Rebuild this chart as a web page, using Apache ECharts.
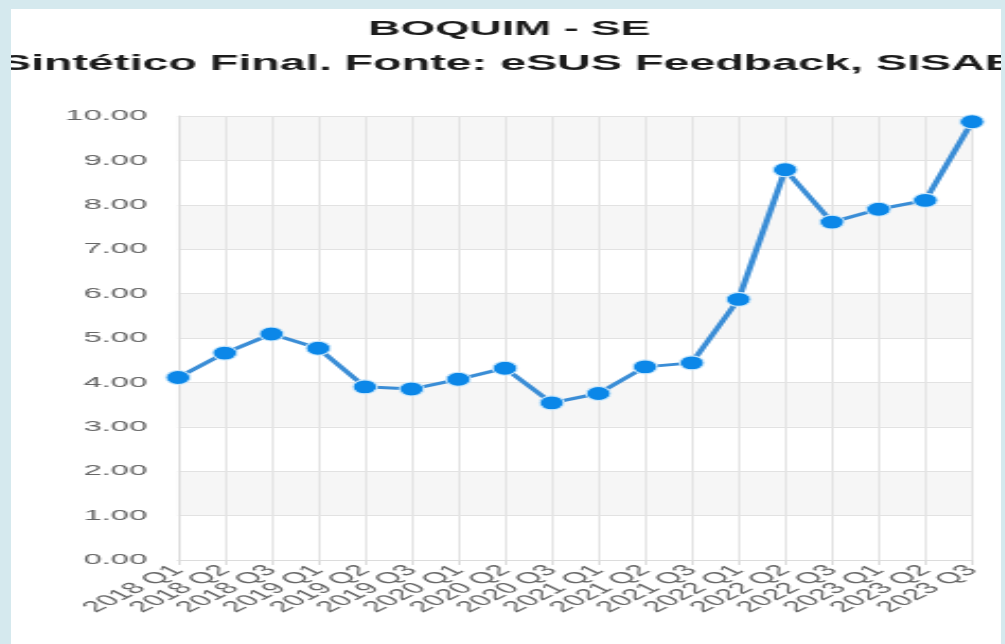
<!DOCTYPE html>
<html>
<head>
<meta charset="utf-8">
<script src="https://cdn.jsdelivr.net/npm/echarts@6/dist/echarts.min.js"></script>
<style>
  html, body { margin: 0; padding: 0; width: 1005px; height: 644px; overflow: hidden; background: #d5e9ee; }
  #panel { position: absolute; left: 11px; top: 9px; width: 990px; height: 635px; background: #ffffff; overflow: hidden; }
  #chart { position: absolute; left: 0; top: 0; width: 470px; height: 635px; transform: scaleX(2.12); transform-origin: 0 0; }
</style>
</head>
<body>
<div id="panel"><div id="chart"></div></div>
<script>
const titleText = 'BOQUIM - SE';
const subtitleText = 'Sintético Final. Fonte: eSUS Feedback, SISAB';
const categories = ['2018 Q1', '2018 Q2', '2018 Q3', '2019 Q1', '2019 Q2', '2019 Q3',
  '2020 Q1', '2020 Q2', '2020 Q3', '2021 Q1', '2021 Q2', '2021 Q3',
  '2022 Q1', '2022 Q2', '2022 Q3', '2023 Q1', '2023 Q2', '2023 Q3'];
const values = [4.11, 4.66, 5.09, 4.77, 3.90, 3.85, 4.07, 4.32, 3.54, 3.75, 4.35, 4.44,
  5.87, 8.79, 7.61, 7.90, 8.10, 9.87];
const yMin = 0;
const yMax = 10;
const yStep = 1;

const chart = echarts.init(document.getElementById('chart'));
chart.setOption({
  animation: false,
  backgroundColor: '#ffffff',
  title: [
    { text: titleText, left: 'center', top: 10, padding: 0,
      textStyle: { fontFamily: 'Liberation Sans, Arial, sans-serif', fontSize: 21, fontWeight: 'bold', color: '#1c1c1c' } },
    { text: subtitleText, left: 'center', top: 44, padding: 0,
      textStyle: { fontFamily: 'Liberation Sans, Arial, sans-serif', fontSize: 22, fontWeight: 'bold', color: '#1c1c1c' } }
  ],
  grid: { left: 78.8, right: 16.7, top: 107, bottom: 84, containLabel: false },
  xAxis: {
    type: 'category',
    data: categories,
    boundaryGap: false,
    axisLine: { show: true, lineStyle: { color: '#dcdcdc', width: 1 } },
    axisTick: { show: true, length: 5, lineStyle: { color: '#dcdcdc' } },
    axisLabel: { rotate: 45, margin: 8, interval: 0, fontFamily: 'Liberation Sans, Arial, sans-serif', fontSize: 15.5, color: '#666666' },
    splitLine: { show: true, lineStyle: { color: '#e4e4e4', width: 1 } }
  },
  yAxis: {
    type: 'value',
    min: yMin, max: yMax, interval: yStep,
    axisLine: { show: true, lineStyle: { color: '#dcdcdc' } },
    axisTick: { show: false },
    axisLabel: { margin: 14.5, fontFamily: 'Liberation Sans, Arial, sans-serif', fontSize: 15.5, color: '#666666',
      formatter: v => v.toFixed(2) },
    splitLine: { show: true, lineStyle: { color: '#e2e2e2', width: 1 } },
    splitArea: { show: true, areaStyle: { color: ['#ffffff', '#f6f6f6'] } }
  },
  series: [{
    type: 'line',
    data: values,
    symbol: 'circle',
    symbolSize: [11.5, 14],
    lineStyle: { color: '#3a8dd6', width: 3 },
    itemStyle: { color: '#0b87e8', borderColor: '#cfe9fb', borderWidth: 1 }
  }]
});
</script>
</body>
</html>
